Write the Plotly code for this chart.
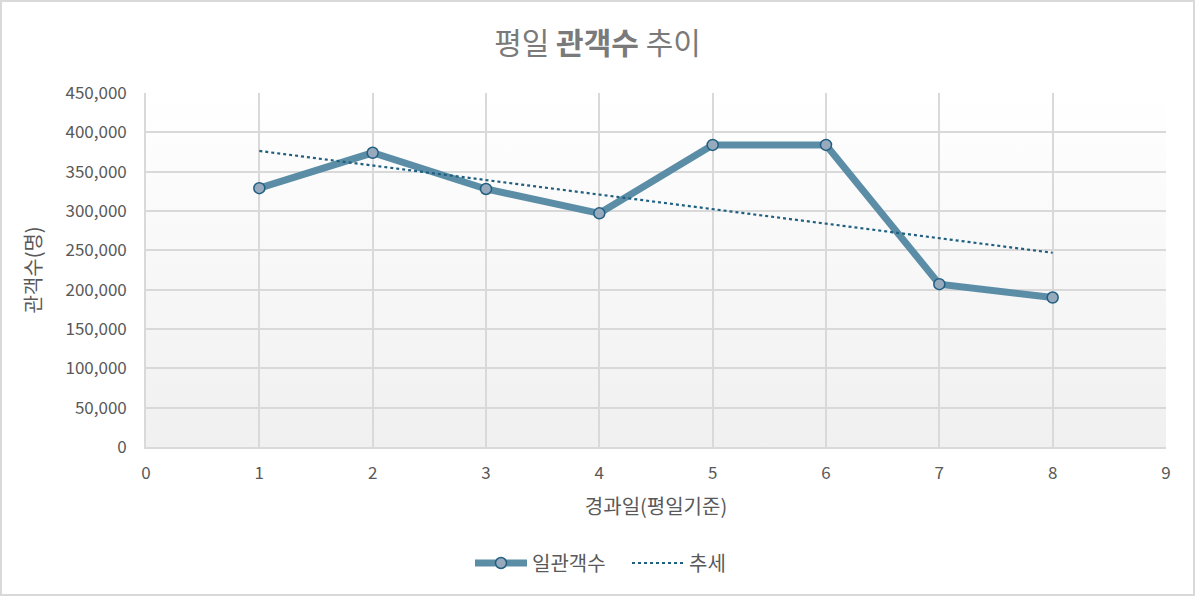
import numpy as np
import base64
import plotly.graph_objects as go

# data
days = [1, 2, 3, 4, 5, 6, 7, 8]
audience = [329000, 374000, 328000, 297000, 384000, 384000, 207000, 190000]

x_ticks = list(range(0, 10))
y_ticks = list(range(0, 450001, 50000))

title_text = "평일 <b>관객수</b> 추이"
x_title = "경과일(평일기준)"
y_title = "관객수(명)"
series_name = "일관객수"
trend_name = "추세"

FONT = "Noto Sans CJK KR"
W, H = 1195, 596
L, R, T, B = 146, 29, 93, 149

# linear trendline (same as Excel's)
coef = np.polyfit(days, audience, 1)
trend = np.poly1d(coef)(days)

# gradient background for the plot area
svg = (
    '<svg xmlns="http://www.w3.org/2000/svg" width="100" height="100" preserveAspectRatio="none">'
    '<defs><linearGradient id="g" x1="0" y1="0" x2="0" y2="1">'
    '<stop offset="0" stop-color="#ffffff"/><stop offset="1" stop-color="#f0f0f0"/>'
    '</linearGradient></defs><rect width="100" height="100" fill="url(#g)"/></svg>'
)
bg_src = "data:image/svg+xml;base64," + base64.b64encode(svg.encode()).decode()

fig = go.Figure()

fig.add_trace(
    go.Scatter(
        x=days,
        y=audience,
        mode="lines+markers",
        name=series_name,
        line=dict(color="#5b8ea6", width=7),
        marker=dict(symbol="circle", size=11, color="#97a9bc",
                    line=dict(color="#215f80", width=1.5)),
    )
)

fig.add_trace(
    go.Scatter(
        x=days,
        y=trend,
        mode="lines",
        name=trend_name,
        line=dict(color="#1f5f80", width=2.2, dash="dot"),
    )
)

axis_common = dict(
    showgrid=True,
    gridcolor="#d9d9d9",
    gridwidth=1.6,
    zeroline=False,
    showline=True,
    linecolor="#d9d9d9",
    linewidth=1.6,
    tickfont=dict(family=FONT, size=17, color="#595959"),
    title_font=dict(family=FONT, size=20, color="#595959"),
    fixedrange=True,
)

fig.update_layout(
    width=W,
    height=H,
    margin=dict(l=L, r=R, t=T, b=B),
    paper_bgcolor="white",
    plot_bgcolor="white",
    font=dict(family=FONT, color="#595959"),
    title=dict(
        text=title_text,
        x=0.5,
        xanchor="center",
        y=1 - 43 / H,
        yanchor="middle",
        font=dict(family=FONT, size=30, color="#7a7a7a"),
    ),
    xaxis=dict(
        range=[0, 9],
        tickvals=x_ticks,
        ticklabelstandoff=10,
        title=dict(text=x_title, standoff=17),
        **axis_common,
    ),
    yaxis=dict(
        range=[0, 450000],
        tickvals=y_ticks,
        tickformat=",d",
        ticklabelstandoff=14,
        title=dict(text=y_title, standoff=18),
        **axis_common,
    ),
    legend=dict(
        orientation="h",
        x=(476 - 6 - L) / (W - L - R),
        xanchor="left",
        y=-(563 - 447) / (H - T - B),
        yanchor="middle",
        font=dict(family=FONT, size=20, color="#595959"),
        itemwidth=52,
        entrywidth=90,
        traceorder="normal",
    ),
    showlegend=True,
    images=[
        dict(
            source=bg_src,
            xref="paper", yref="paper",
            x=0, y=1, sizex=1, sizey=1,
            xanchor="left", yanchor="top",
            sizing="stretch",
            layer="below",
        )
    ],
    shapes=[
        # outer chart border
        dict(
            type="rect",
            xref="paper", yref="paper",
            x0=-(L - 1) / (W - L - R), x1=1 + (R - 1) / (W - L - R),
            y0=-(B - 1) / (H - T - B), y1=1 + (T - 1) / (H - T - B),
            line=dict(color="#d9d9d9", width=2),
            fillcolor="rgba(0,0,0,0)",
            layer="below",
        )
    ],
)

fig.write_html(
    "out.html",
    config={"displayModeBar": False},
    post_script="document.body.style.margin = '0';",
)
